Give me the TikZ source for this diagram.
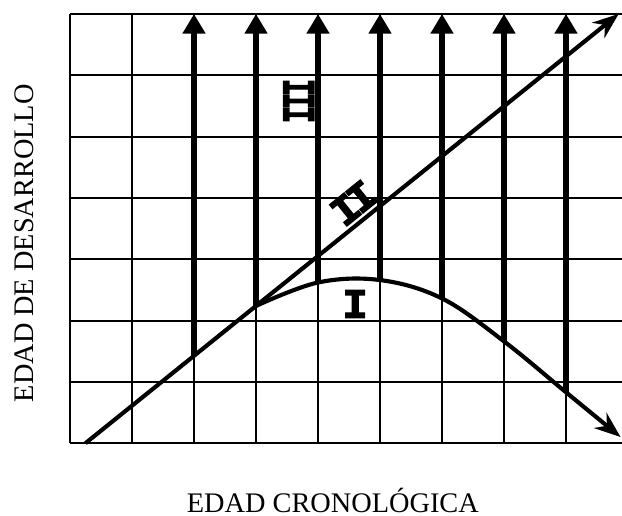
\documentclass[tikz,border=0pt]{standalone}
\usepackage{fontspec}
\setmainfont{Liberation Serif}
\newfontfamily\stagefont[BoldFeatures={FakeBold=3.5}]{Liberation Mono}
\usetikzlibrary{arrows.meta}

\begin{document}
\begin{tikzpicture}[x=1cm, y=0.989cm,
  gridline/.style={line width=0.9pt},
  rise/.style={line width=2.7pt, -{Triangle[width=10pt,length=9pt]}},
  trend/.style={line width=1.9pt, -{Stealth[width=9pt,length=12pt]}},
  stage/.style={font=\stagefont\bfseries\fontsize{19}{19}\selectfont, inner sep=0pt},
  axis/.style={font=\fontsize{13}{13}\selectfont, inner sep=0pt}]
  \useasboundingbox (-1.129,-1.175) rectangle (8.903,7.227);

  % grid
  \foreach \x in {0,...,8}
    \draw[gridline] (\x,0) -- (\x,7);
  \foreach \y in {0,...,7}
    \draw[gridline] (0,\y) -- (8.903,\y);

  % line II
  \coordinate (d0) at (0.25,0);
  \coordinate (d1) at (8.85,7);
  \draw[trend] (d0) -- node[stage, sloped, above=1.5pt, pos=0.525] (s2) {I\kern-0.1em I} (d1);

  % curve I
  \coordinate (c2) at (intersection of d0--d1 and 2,0--2,7);
  \coordinate (c3) at (intersection of d0--d1 and 3,0--3,7);
  \coordinate (c4) at (4,2.62);
  \coordinate (c5) at (5,2.66);
  \coordinate (c6) at (6,2.36);
  \coordinate (c7) at (7,1.66);
  \coordinate (c8) at (8,0.83);
  \coordinate (c9) at (8.88,0.1);
  \draw[trend] plot[smooth, tension=0.6] coordinates {(c3) (c4) (c5) (c6) (c7) (c8) (c9)};

  % zone III
  \foreach \i in {2,...,8}
    \draw[rise] (c\i) -- (c\i |- d1);

  \node[stage, font=\stagefont\bfseries\fontsize{21}{21}\selectfont, rotate=90, xscale=0.6, transform shape]
    (s3) at (3.69,5.58) {I\kern-0.1em I\kern-0.1em I};
  \node[stage] (s1) at (4.6,2.27) {I};

  \node[axis] (xlab) at (4.24,-0.93) {EDAD CRONOLÓGICA};
  \node[axis, rotate=90] (ylab) at (-0.73,3.26) {EDAD DE DESARROLLO};
\end{tikzpicture}
\end{document}
